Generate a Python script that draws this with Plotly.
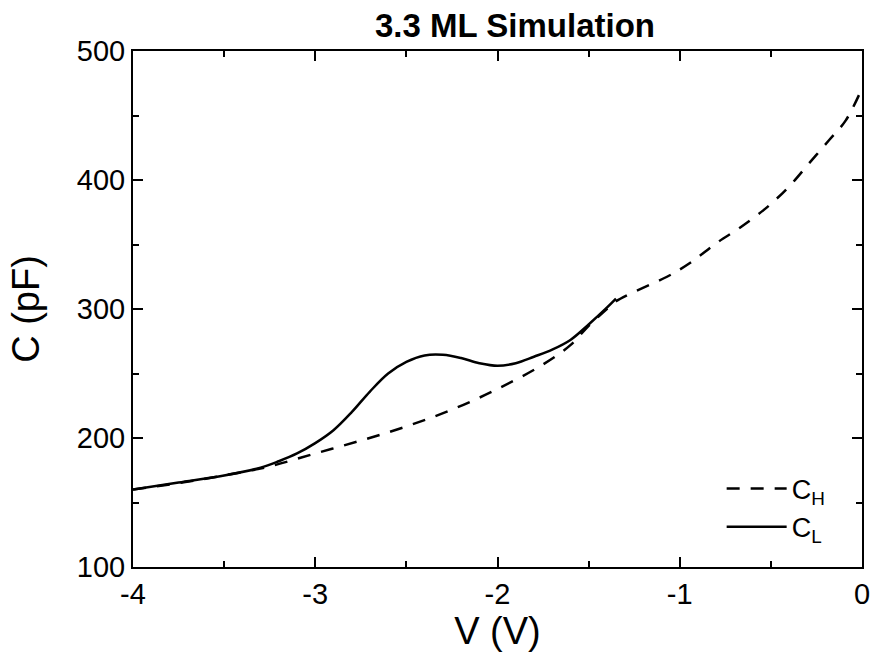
import plotly.graph_objects as go

# C_H (dashed) : V (V), C (pF)
vh = [-4.0, -3.75, -3.5, -3.25, -3.0, -2.75, -2.5, -2.25, -2.0, -1.75, -1.6, -1.5, -1.4, -1.35,
      -1.27, -1.07, -0.94, -0.8, -0.67, -0.52, -0.4, -0.29, -0.18, -0.09, 0.0]
ch = [160, 165, 171, 178, 188, 198, 209, 222, 238, 257, 272, 287, 300, 306,
      312, 325, 336, 351, 363, 379, 395, 413, 431, 446, 471]

# C_L (solid)
vl = [-4.0, -3.75, -3.5, -3.3, -3.2, -3.1, -3.0, -2.9, -2.8, -2.7, -2.6, -2.5, -2.4, -2.3,
      -2.2, -2.1, -2.0, -1.9, -1.8, -1.7, -1.6, -1.5, -1.4, -1.35]
cl = [160, 165.5, 171, 177, 182, 188, 196, 206, 220, 236, 250, 259, 264, 264.5,
      262, 258, 256, 258, 263, 268.5, 276, 288, 301, 308]

x_ticks = [-4, -3, -2, -1, 0]
x_tick_labels = ["-4", "-3", "-2", "-1", "0"]
y_ticks = [100, 200, 300, 400, 500]
y_tick_labels = ["100", "200", "300", "400", "500"]

FONT = "Liberation Sans, Arial, sans-serif"

fig = go.Figure()
fig.add_trace(go.Scatter(x=vh, y=ch, mode="lines", name="C<sub>H</sub>",
                         line=dict(color="black", width=2.5, dash="13px,11px", shape="spline")))
fig.add_trace(go.Scatter(x=vl, y=cl, mode="lines", name="C<sub>L</sub>",
                         line=dict(color="black", width=2.5, shape="spline")))

axis_common = dict(
    showgrid=False, zeroline=False, showline=True, linecolor="black", linewidth=2,
    mirror="ticks", ticks="inside", ticklen=10, tickwidth=2, tickcolor="black",
    tickfont=dict(family=FONT, size=29, color="black"),
)
fig.update_xaxes(range=[-4, 0], tickvals=x_ticks, ticktext=x_tick_labels,
                 minor=dict(dtick=0.5, tick0=-4, ticks="inside", ticklen=6, tickwidth=2, tickcolor="black"),
                 title=dict(text="V (V)", font=dict(family=FONT, size=38, color="black"), standoff=6),
                 **axis_common)
fig.update_yaxes(range=[100, 500], tickvals=y_ticks, ticktext=y_tick_labels,
                 minor=dict(dtick=50, tick0=100, ticks="inside", ticklen=6, tickwidth=2, tickcolor="black"),
                 title=dict(text="C (pF)", font=dict(family=FONT, size=38, color="black"), standoff=26),
                 **axis_common)

fig.update_layout(
    width=879, height=662,
    margin=dict(l=133, r=9, t=51, b=95),
    paper_bgcolor="white", plot_bgcolor="white",
    title=dict(text="<b>3.3 ML Simulation</b>", x=0.524, xref="paper", xanchor="center",
               y=0.962, yanchor="middle",
               font=dict(family=FONT, size=33, color="black")),
    showlegend=True,
    legend=dict(x=0.957, y=0.03, xanchor="right", yanchor="bottom", itemwidth=60,
                bgcolor="rgba(0,0,0,0)", font=dict(family=FONT, size=27, color="black"),
                traceorder="normal"),
)

fig.write_html("out.html")
